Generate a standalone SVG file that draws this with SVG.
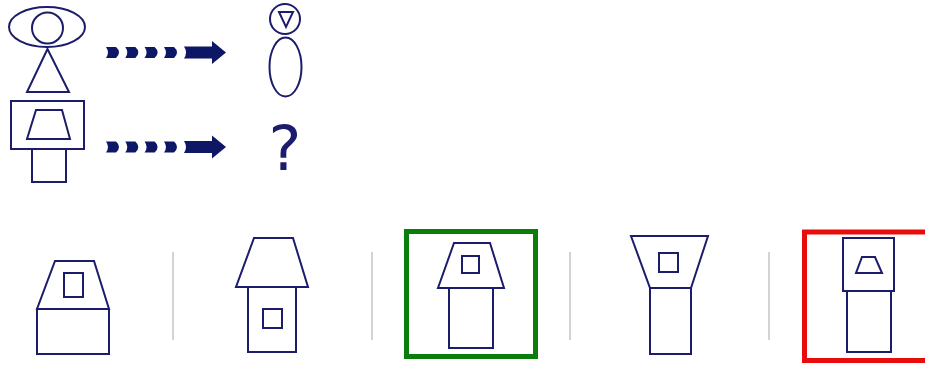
<svg xmlns="http://www.w3.org/2000/svg" width="925" height="365" viewBox="0 0 925 365">
<style>
.s{fill:none;stroke:#1c1c6c;stroke-width:2;stroke-linejoin:miter}
.a{fill:#0d1766}
.sep{stroke:#c4c4c4;stroke-width:1.5}
.q{font-family:"DejaVu Sans",sans-serif;font-size:62px;fill:#1c1c6c}
</style>
<defs>
<path id="blk" d="M0,-5.5 L10,-5.5 Q13,-3 13,0 Q13,3 10,5.5 L0,5.5 Q2,2.5 2,0 Q2,-2.5 0,-5.5Z"/>
<g id="arr">
<use href="#blk"/>
<use href="#blk" x="19.3"/>
<use href="#blk" x="38.6"/>
<use href="#blk" x="58"/>
<path d="M78,-6 L106,-6 L106,-11.5 L120,0 L106,11.5 L106,6 L78,6 Q80,3 80,0 Q80,-3 78,-6Z"/>
</g>
</defs>
<g id="connectors" class="a">
<use href="#arr" transform="translate(106,52.5)"/>
<use href="#arr" transform="translate(106,147)"/>
</g>
<g id="q1a">
<ellipse class="s" cx="47" cy="27" rx="38" ry="20"/>
<circle class="s" cx="47.5" cy="28" r="15.5"/>
<polygon class="s" points="47.5,49 27,92 69,92"/>
</g>
<g id="q1b">
<circle class="s" cx="285" cy="19" r="15"/>
<polygon class="s" points="279,12 293,12 286,27"/>
<ellipse class="s" cx="285.5" cy="67" rx="16" ry="29.5"/>
</g>
<g id="q2a">
<rect class="s" x="11" y="101" width="73" height="48"/>
<polygon class="s" points="36,110 62,110 70,139 27,139"/>
<rect class="s" x="32" y="149" width="34" height="33"/>
</g>
<g id="q2b">
<text class="q" x="285" y="170" text-anchor="middle">?</text>
</g>
<g id="sep">
<line class="sep" x1="173" y1="252" x2="173" y2="340"/>
<line class="sep" x1="372" y1="252" x2="372" y2="340"/>
<line class="sep" x1="570" y1="252" x2="570" y2="340"/>
<line class="sep" x1="769" y1="252" x2="769" y2="340"/>
</g>
<g id="opt1">
<polygon class="s" points="55,261 94,261 109,309 37,309"/>
<rect class="s" x="37" y="309" width="72" height="45"/>
<rect class="s" x="64" y="273" width="19" height="24"/>
</g>
<g id="opt2">
<polygon class="s" points="254,238 293,238 308,287 236,287"/>
<rect class="s" x="248" y="287" width="48" height="65"/>
<rect class="s" x="263" y="309" width="19" height="19"/>
</g>
<g id="opt3">
<rect x="406.5" y="231.5" width="129" height="125" fill="none" stroke="#0a7d0a" stroke-width="5"/>
<polygon class="s" points="454,243 490,243 504,288 438,288"/>
<rect class="s" x="449" y="288" width="44" height="60"/>
<rect class="s" x="462" y="256" width="17" height="17"/>
</g>
<g id="opt4">
<polygon class="s" points="631,236 708,236 691,288 650,288"/>
<rect class="s" x="650" y="288" width="41" height="66"/>
<rect class="s" x="659" y="253" width="19" height="19"/>
</g>
<g id="opt5">
<rect x="804.5" y="232" width="135" height="128.5" fill="none" stroke="#e80c0c" stroke-width="5"/>
<rect class="s" x="843" y="238" width="51" height="53"/>
<polygon class="s" points="862,257 875,257 882,273 856,273"/>
<rect class="s" x="847" y="291" width="44" height="61"/>
</g>
</svg>
